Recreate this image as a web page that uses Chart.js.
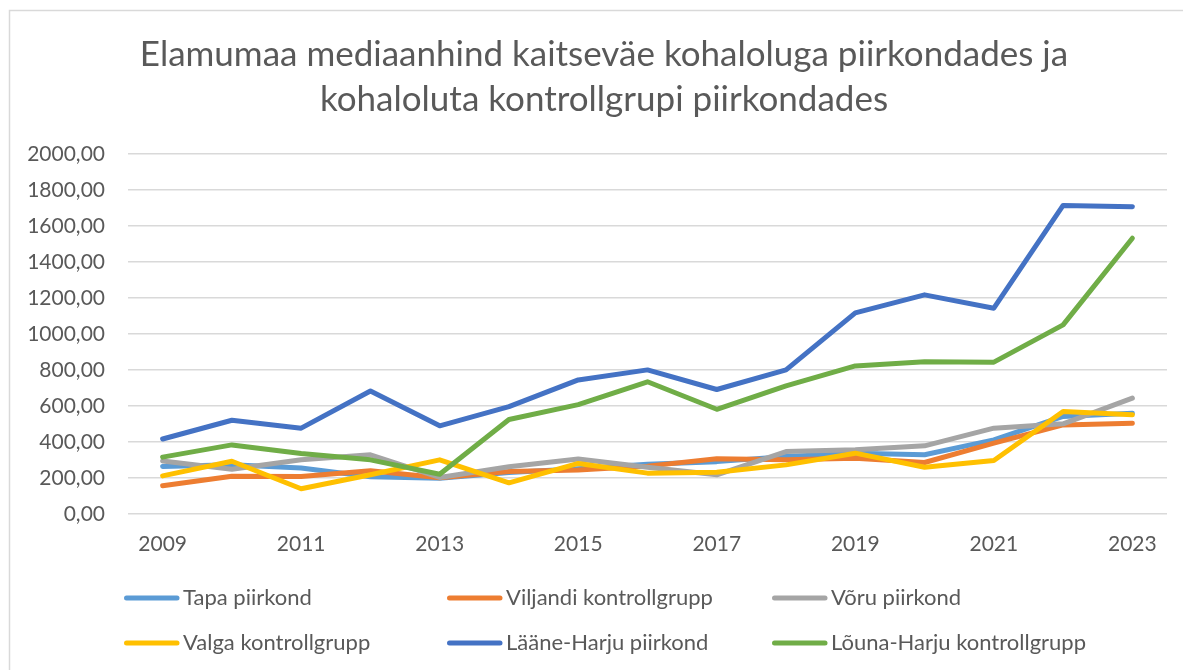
<!DOCTYPE html>
<html>
<head>
<meta charset="utf-8">
<script src="https://cdn.jsdelivr.net/npm/chart.js@4.4.1/dist/chart.umd.min.js"></script>
<style>
  html, body { margin: 0; padding: 0; background: #ffffff; }
  #wrap { width: 1183px; height: 670px; position: relative; }
</style>
</head>
<body>
<div id="wrap"><canvas id="c" width="1183" height="670"></canvas></div>
<script>
const years = ['2009','2010','2011','2012','2013','2014','2015','2016','2017','2018','2019','2020','2021','2022','2023'];
const tapa      = [263, 272, 254, 206, 198, 230, 250, 276, 290, 318, 337, 328, 411, 541, 559];
const viljandi  = [156, 209, 207, 239, 200, 235, 243, 265, 306, 300, 309, 285, 393, 494, 504];
const voru      = [294, 248, 300, 328, 202, 261, 305, 259, 217, 346, 356, 378, 476, 500, 643];
const valga     = [211, 292, 139, 217, 300, 172, 280, 226, 231, 272, 337, 259, 296, 569, 550];
const laaneHarju = [416, 520, 476, 683, 489, 596, 744, 800, 691, 800, 1117, 1217, 1143, 1714, 1707];
const lounaHarju = [315, 383, 335, 300, 220, 524, 607, 734, 581, 711, 822, 845, 843, 1050, 1532];
const seriesNames = ['Tapa piirkond', 'Viljandi kontrollgrupp', 'Võru piirkond', 'Valga kontrollgrupp', 'Lääne-Harju piirkond', 'Lõuna-Harju kontrollgrupp'];
const seriesColors = ['#5B9BD5', '#ED7D31', '#A5A5A5', '#FFC000', '#4472C4', '#70AD47'];
const titleLines = ['Elamumaa mediaanhind kaitseväe kohaloluga piirkondades ja', 'kohaloluta kontrollgrupi piirkondades'];

const seriesValues = [tapa, viljandi, voru, valga, laaneHarju, lounaHarju];
const FONT = 'Lato, "Open Sans", sans-serif';
const TEXT = '#595959';

const frame = {
  id: 'frame',
  afterLayout(chart) {
    const t = chart.titleBlock;
    if (t) { t.left += 8; t.right += 8; }
  },
  beforeDraw(chart) {
    const ctx = chart.ctx;
    ctx.save();
    ctx.fillStyle = '#ffffff';
    ctx.fillRect(0, 0, chart.width, chart.height);
    ctx.strokeStyle = '#D9D9D9';
    ctx.lineWidth = 1.5;
    ctx.beginPath();
    ctx.moveTo(9.5, chart.height + 5);
    ctx.lineTo(9.5, 10.5);
    ctx.lineTo(chart.width + 5, 10.5);
    ctx.stroke();
    ctx.restore();
  }
};

const gridLegend = {
  id: 'gridLegend',
  afterDraw(chart) {
    const ctx = chart.ctx;
    const cols = [124, 447, 772];
    const rows = [598, 643];
    ctx.save();
    ctx.font = '22px ' + FONT;
    ctx.textBaseline = 'middle';
    ctx.textAlign = 'left';
    chart.data.datasets.forEach((ds, i) => {
      const x = cols[i % 3];
      const y = rows[Math.floor(i / 3)];
      ctx.strokeStyle = ds.borderColor;
      ctx.lineWidth = 5;
      ctx.lineCap = 'round';
      ctx.beginPath();
      ctx.moveTo(x + 2.5, y);
      ctx.lineTo(x + 53, y);
      ctx.stroke();
      ctx.fillStyle = TEXT;
      ctx.fillText(ds.label, x + 59, y);
    });
    ctx.restore();
  }
};

new Chart(document.getElementById('c'), {
  type: 'line',
  data: {
    labels: years,
    datasets: seriesNames.map((name, i) => ({
      label: name,
      data: seriesValues[i],
      borderColor: seriesColors[i],
      backgroundColor: seriesColors[i],
      borderWidth: 5,
      borderCapStyle: 'round',
      borderJoinStyle: 'round',
      pointRadius: 0,
      pointHoverRadius: 0,
      tension: 0,
      fill: false,
      order: seriesNames.length - i
    }))
  },
  options: {
    responsive: false,
    animation: false,
    devicePixelRatio: 1,
    layout: { padding: { left: 25, right: 16, top: 0, bottom: 95 } },
    plugins: {
      legend: { display: false },
      tooltip: { enabled: false },
      title: {
        display: true,
        text: titleLines,
        color: TEXT,
        font: { family: FONT, size: 35, weight: 'normal', lineHeight: 45 / 35 },
        padding: { top: 32, bottom: 32 }
      }
    },
    scales: {
      x: {
        offset: true,
        grid: { display: false, drawTicks: false },
        border: { display: false },
        ticks: {
          autoSkip: false,
          maxRotation: 0,
          padding: 18,
          color: TEXT,
          font: { family: FONT, size: 21 },
          callback: function(value, index) { return index % 2 === 0 ? years[index] : ''; }
        }
      },
      y: {
        min: 0,
        max: 2000,
        afterFit: function(scale) { scale.width = 103; },
        grid: { color: '#D9D9D9', lineWidth: 1.5, drawTicks: false },
        border: { display: false },
        ticks: {
          stepSize: 200,
          padding: 23,
          color: TEXT,
          font: { family: FONT, size: 21 },
          callback: function(v) { return Number(v).toFixed(2).replace('.', ','); }
        }
      }
    }
  },
  plugins: [frame, gridLegend]
});
</script>
</body>
</html>
